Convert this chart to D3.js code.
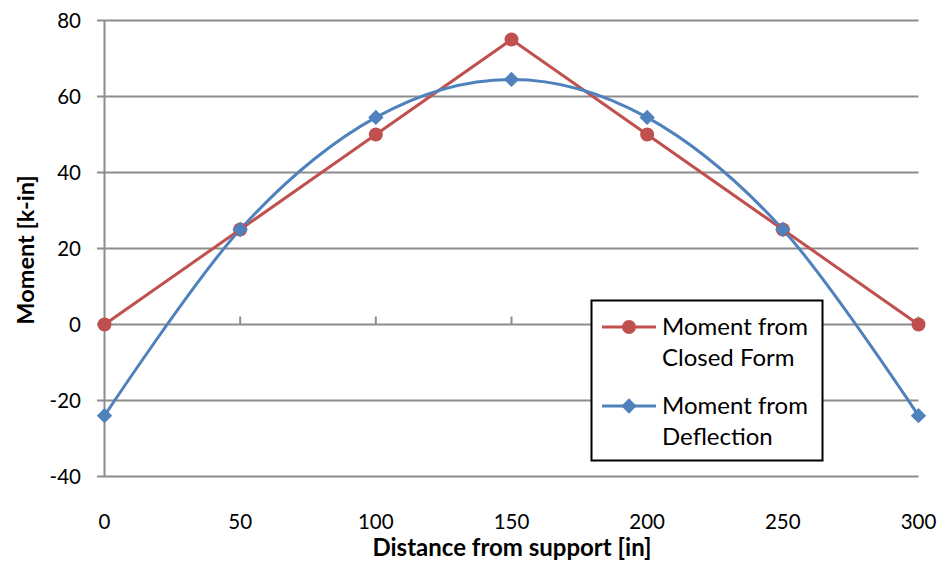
<!DOCTYPE html>
<html><head><meta charset="utf-8">
<script src="https://cdn.jsdelivr.net/npm/d3@7"></script>
<style>body{margin:0;background:#fff}svg{display:block}text{font-family:Lato,"Open Sans",sans-serif}</style>
</head><body><svg id="c" width="943" height="561"></svg>
<script>
const xValues = [0, 50, 100, 150, 200, 250, 300];
const closedForm = [0, 25, 50, 75, 50, 25, 0];
const fromDeflection = [-24, 25, 54.5, 64.5, 54.5, 25, -24];
const xTicks = [0, 50, 100, 150, 200, 250, 300];
const yTicks = [-40, -20, 0, 20, 40, 60, 80];
const seriesNames = [["Moment from", "Closed Form"], ["Moment from", "Deflection"]];

const svg = d3.select("#c");
const x = d3.scaleLinear().domain([0, 300]).range([104.5, 918.5]);
const y = d3.scaleLinear().domain([-40, 80]).range([476.5, 20.5]);
const grid = "#8c8c8c";
const red = "#C0504D", blue = "#4F81BD";

svg.append("g").selectAll("line").data(yTicks).join("line")
  .attr("x1", 97).attr("x2", x(300)).attr("y1", d => y(d)).attr("y2", d => y(d))
  .attr("stroke", grid).attr("stroke-width", 2);
svg.append("line").attr("x1", x(0)).attr("x2", x(0)).attr("y1", y(80)).attr("y2", y(-40))
  .attr("stroke", grid).attr("stroke-width", 2);
svg.append("g").selectAll("line").data(xTicks.slice(1)).join("line")
  .attr("x1", d => x(d)).attr("x2", d => x(d)).attr("y1", y(0) - 8).attr("y2", y(0))
  .attr("stroke", grid).attr("stroke-width", 2);

svg.append("g").selectAll("text").data(yTicks).join("text")
  .attr("x", 81).attr("y", d => y(d)).attr("dy", "0.35em").attr("text-anchor", "end")
  .attr("font-size", 20.5).attr("fill", "#000").text(d => d);
svg.append("g").selectAll("text").data(xTicks).join("text")
  .attr("x", d => x(d)).attr("y", 522).attr("dy", "0.35em").attr("text-anchor", "middle")
  .attr("font-size", 20.5).attr("fill", "#000").text(d => d);

svg.append("text").attr("x", 512).attr("y", 548).attr("dy", "0.35em").attr("text-anchor", "middle")
  .attr("font-size", 24).attr("font-weight", "bold").text("Distance from support [in]");
svg.append("text").attr("transform", "translate(26,250) rotate(-90)").attr("dy", "0.35em")
  .attr("text-anchor", "middle").attr("font-size", 23.5).attr("font-weight", "bold").text("Moment [k-in]");

const redData = xValues.map((v, i) => [v, closedForm[i]]);
const blueData = xValues.map((v, i) => [v, fromDeflection[i]]);

svg.append("path").datum(redData)
  .attr("d", d3.line().x(d => x(d[0])).y(d => y(d[1])))
  .attr("fill", "none").attr("stroke", red).attr("stroke-width", 3);
svg.append("path").datum(blueData)
  .attr("d", d3.line().x(d => x(d[0])).y(d => y(d[1])).curve(d3.curveCardinal.tension(0)))
  .attr("fill", "none").attr("stroke", blue).attr("stroke-width", 3);

svg.append("g").selectAll("circle").data(redData).join("circle")
  .attr("cx", d => x(d[0])).attr("cy", d => y(d[1])).attr("r", 7).attr("fill", red);
const diamond = d3.symbol().type(d3.symbolDiamond2).size(150);
svg.append("g").selectAll("path").data(blueData).join("path")
  .attr("transform", d => `translate(${x(d[0])},${y(d[1])})`).attr("d", diamond).attr("fill", blue);

const lg = svg.append("g");
lg.append("rect").attr("x", 591.5).attr("y", 300.5).attr("width", 231).attr("height", 160)
  .attr("fill", "#fff").attr("stroke", "#000").attr("stroke-width", 2);
const items = [{c: red, ly: 327, t: seriesNames[0], m: "c"}, {c: blue, ly: 406, t: seriesNames[1], m: "d"}];
items.forEach(it => {
  lg.append("line").attr("x1", 602).attr("x2", 656).attr("y1", it.ly).attr("y2", it.ly)
    .attr("stroke", it.c).attr("stroke-width", 3);
  if (it.m === "c") lg.append("circle").attr("cx", 629).attr("cy", it.ly).attr("r", 7).attr("fill", it.c);
  else lg.append("path").attr("transform", `translate(629,${it.ly})`).attr("d", diamond).attr("fill", it.c);
  it.t.forEach((s, k) => lg.append("text").attr("x", 662).attr("y", it.ly + k * 31).attr("dy", "0.35em")
    .attr("font-size", 24).attr("fill", "#000").text(s));
});
</script></body></html>
